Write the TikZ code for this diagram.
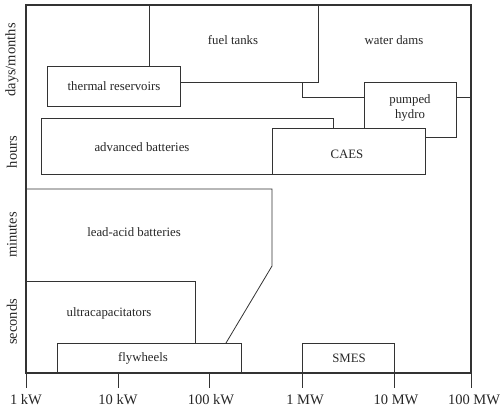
\documentclass[tikz,border=0pt]{standalone}
\usepackage{fontspec}
\setmainfont{Liberation Serif}
\begin{document}
\begin{tikzpicture}[x=1pt,y=-1pt,
  ln/.style={draw=black!80,line width=0.8pt},
  frame/.style={draw=black!80,line width=1.2pt},
  boxfill/.style={ln,fill=white},
  lbl/.style={font=\fontsize{12.8}{14.5}\selectfont,text=black!85,align=center,inner sep=0pt},
  axl/.style={font=\fontsize{14.5}{16}\selectfont,text=black!85,inner sep=0pt},
  tick/.style={draw=black!80,line width=0.8pt}]
\useasboundingbox (0,0) rectangle (500,410);
% frame
\draw[frame] (26,5) rectangle (471,373);
% fuel tanks and water dams region borders
\draw[ln] (149,5) -- (149,66);
\draw[ln] (180,82) -- (318,82) -- (318,5);
\draw[ln] (302,82) -- (302,97) -- (364,97);
\draw[ln] (456,97) -- (471,97);
% boxes
\draw[boxfill] (47,66) rectangle (180,106);
\draw[boxfill] (364,82) rectangle (456,137);
\draw[boxfill] (41,118) rectangle (333,174);
\draw[boxfill] (272,128) rectangle (425,174);
% lead-acid
\draw[ln] (26,189) -- (272,189) -- (272,266) -- (226,343);
% ultracapacitators
\draw[ln] (26,281) -- (195,281) -- (195,343);
% flywheels
\draw[ln] (57,373) -- (57,343) -- (241,343) -- (241,373);
% SMES
\draw[ln] (302,373) -- (302,343) -- (394,343) -- (394,373);
% ticks
\foreach \x in {26,118,209,302,394,471} \draw[tick] (\x,373) -- (\x,388);
% labels
\node[lbl] (fuel) at (233,40) {fuel tanks};
\node[lbl] (dams) at (394,40) {water dams};
\node[lbl] (thermal) at (114,86) {thermal reservoirs};
\node[lbl] (pumped) at (410,108) {pumped\\hydro};
\node[lbl] (adv) at (142,147) {advanced batteries};
\node[lbl] (caes) at (347,154) {CAES};
\node[lbl] (lead) at (134,232) {lead-acid batteries};
\node[lbl] (ultra) at (109,313) {ultracapacitators};
\node[lbl] (fly) at (143,358) {flywheels};
\node[lbl] (smes) at (349,358) {SMES};
% y-axis labels
\node[axl,rotate=90] (days) at (12,60) {days/months};
\node[axl,rotate=90] (hours) at (12,152) {hours};
\node[axl,rotate=90] (minutes) at (12,235) {minutes};
\node[axl,rotate=90] (seconds) at (12,322) {seconds};
% x-axis labels
\node[axl] (t1) at (26,400) {1 kW};
\node[axl] (t2) at (118,400) {10 kW};
\node[axl] (t3) at (211,400) {100 kW};
\node[axl] (t4) at (305,400) {1 MW};
\node[axl] (t5) at (396,400) {10 MW};
\node[axl] (t6) at (474,400) {100 MW};
\end{tikzpicture}
\end{document}
